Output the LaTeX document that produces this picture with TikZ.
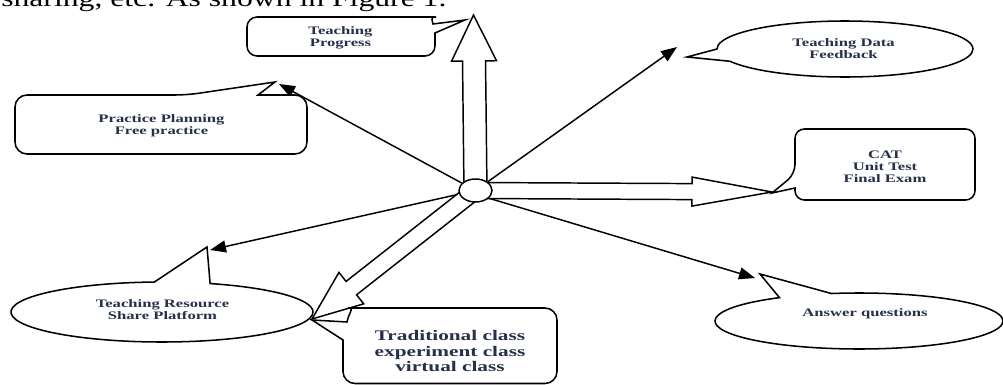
\documentclass[tikz,border=0pt]{standalone}
\usepackage{fontspec}
\usetikzlibrary{calc,shapes.geometric,shapes.callouts,arrows.meta}
\newfontfamily\lblfont[FakeStretch=1.45]{Liberation Serif}
\newfontfamily\capfont[FakeStretch=1.32]{Liberation Serif}
\definecolor{lbl}{HTML}{26304A}
\pgfdeclarelayer{bgbg}
\pgfdeclarelayer{bg}
\pgfsetlayers{bgbg,bg,main}
% #1 name, #2 from, #3 tip, #4 shaft half width, #5 head half width, #6 head length
\newcommand\fatarrow[6]{%
  \coordinate (#1-hb) at ($(#3)!#6!(#2)$);
  \draw[fat] ($(#2)!#4!90:(#3)$) -- ($(#1-hb)!#4!90:(#3)$) -- ($(#1-hb)!#5!90:(#3)$)
     -- (#3) -- ($(#1-hb)!#5!-90:(#3)$) -- ($(#1-hb)!#4!-90:(#3)$) -- ($(#2)!#4!-90:(#3)$);}
\begin{document}
\begin{tikzpicture}[x=0.75pt,y=-0.75pt,
  outline/.style={draw=black,line width=1.15pt,line join=miter,fill=white},
  txt/.style={font=\lblfont\bfseries\fontsize{8.6}{9}\selectfont,text=lbl,align=center,inner sep=0},
  bigtxt/.style={txt,font=\lblfont\bfseries\fontsize{11}{11.3}\selectfont},
  conn/.style={draw=black,line width=1.1pt,-{Triangle[length=12pt,width=9pt]}},
  fat/.style={draw=black,line width=1.1pt,fill=white,line join=miter},
  hub/.style={draw=black,ellipse,line width=1.1pt,fill=white,minimum width=24.75pt,minimum height=17.25pt,inner sep=0},
  ecall/.style={draw=black,ellipse callout,line width=1.15pt,fill=white,inner sep=0}
]
\useasboundingbox (0,0) rectangle (1003,385);

% caption fragment at the top (cut by the upper edge)
\node[font=\capfont\fontsize{18}{20}\selectfont,anchor=base west,inner sep=0] (cap) at (1,6.5) {sharing, etc. As shown in Figure 1.};

% hub
\coordinate (cc) at (475.5,190.5);
\node[hub] (c) at (cc) {};

% tips
\coordinate (aPP) at (279,84);
\coordinate (aTD) at (677,47);
\coordinate (aTR) at (210,250);
\coordinate (aAQ) at (755,278);
\coordinate (uT) at (473.5,15);
\coordinate (rT) at (772,192);
\coordinate (dT) at (312,319);

\begin{pgfonlayer}{bgbg}
  \draw[conn] (c) -- (aPP);
  \draw[conn] (c) -- (aTD);
  \draw[conn] (c) -- (aTR);
  \draw[conn] (c.-30) -- (aAQ);
\end{pgfonlayer}
\begin{pgfonlayer}{bg}
  \fatarrow{up}{cc}{uT}{8.625pt}{16.875pt}{34.5pt}
  \fatarrow{rt}{cc}{rT}{6pt}{10.875pt}{60pt}
  \fatarrow{dg}{cc}{dT}{6.375pt}{15pt}{37.5pt}
\end{pgfonlayer}

% Teaching Progress bubble
\coordinate (pTP) at (465,20);
\draw[outline,rounded corners=7.5pt] (435,45) -- (435,56) -- (247,56) -- (247,17) -- (426,17)
  [sharp corners] to[out=0,in=100] (433,24) -- (pTP) -- (435,33) -- cycle;
\node[txt] (TP) at (340.5,38) {Teaching\\Progress};

% Practice Planning bubble
\coordinate (pPP) at (275,82);
\draw[outline,rounded corners=9pt] (280,95) -- (307,95) -- (307,154) -- (15,154) -- (15,95) -- (187,95)
  [sharp corners] -- (pPP) -- (258,95) -- cycle;
\node[txt] (PP) at (161.5,125.5) {Practice Planning\\Free practice};

% CAT bubble
\coordinate (pCAT) at (772,193);
\draw[outline,rounded corners=7pt] (795,150) -- (795,174) [sharp corners] -- (pCAT) -- (795,188) -- (795,189)
  [rounded corners=7pt] -- (795,200) -- (975,200) -- (975,129) -- (795,129) -- cycle;
\node[txt] (CAT) at (885,166.5) {CAT\\Unit Test\\Final Exam};

% Traditional class bubble
\coordinate (pTC) at (312,320);
\draw[outline,rounded corners=9pt] (343,360) -- (343,383.5) -- (557,383.5) -- (557,308) -- (362,308)
  [sharp corners] to[out=180,in=80] (347,322) -- (pTC) -- (343,340) -- cycle;
\node[bigtxt] (TC) at (450,351) {Traditional class\\experiment class\\virtual class};

% ellipse callouts
\node[ecall,minimum width=192pt,minimum height=42pt,callout absolute pointer={(687,57)},callout pointer arc=26] (TDe) at (845,49) {};
\node[txt] (TD) at (843.5,48.5) {Teaching Data\\Feedback};

\node[ecall,minimum width=226.5pt,minimum height=45pt,callout absolute pointer={(207,247)},callout pointer arc=21.5] (TRe) at (162,312) {};
\node[txt] (TR) at (162.5,310) {Teaching Resource\\Share Platform};

\node[ecall,minimum width=216pt,minimum height=42pt,callout absolute pointer={(760,274)},callout pointer arc=22.5] (AQe) at (859,321) {};
\node[txt] (AQ) at (865,314) {Answer questions};
\end{tikzpicture}
\end{document}
